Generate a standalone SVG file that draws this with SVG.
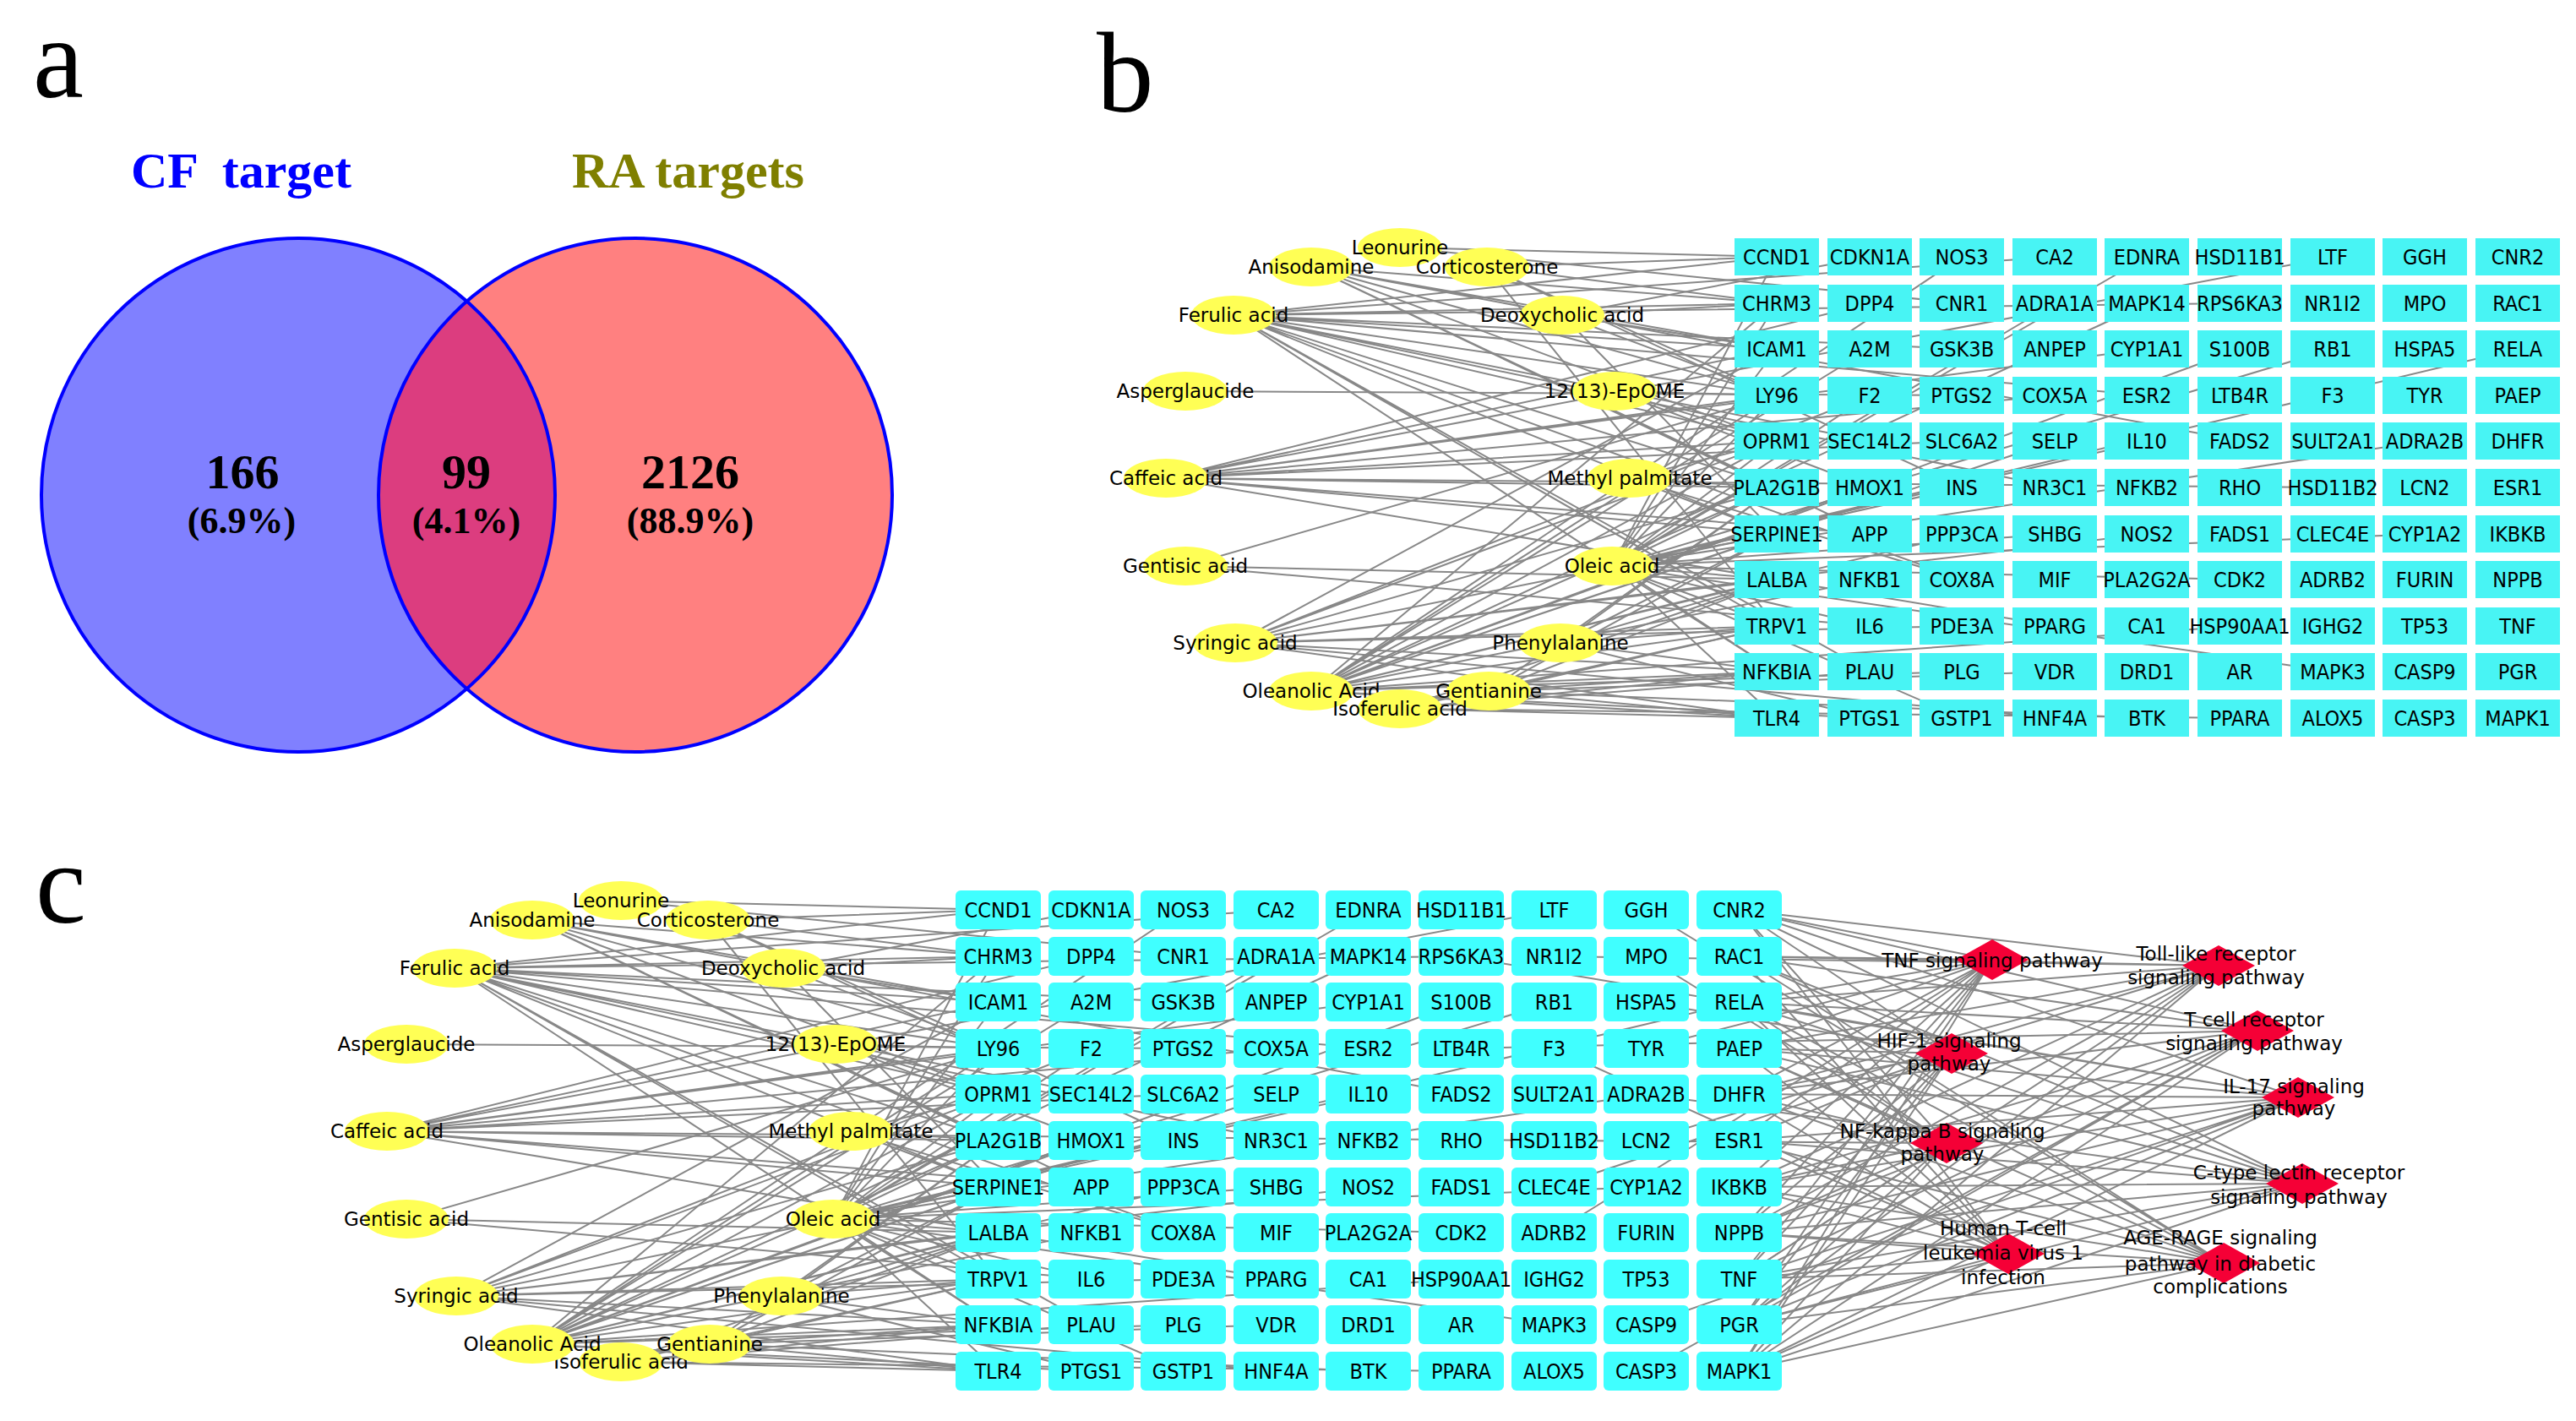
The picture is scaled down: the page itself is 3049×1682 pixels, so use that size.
<svg xmlns="http://www.w3.org/2000/svg" width="3049" height="1682" viewBox="0 0 3049 1682">
<style>
.panel{font-family:"Liberation Serif",serif;font-size:135px;fill:#000}
.venn{font-family:"Liberation Serif",serif;font-weight:bold;text-anchor:middle;fill:#000}
.lbl{font-family:"DejaVu Sans","Liberation Sans",sans-serif;font-size:23px;fill:#000;text-anchor:middle}
.cmp ellipse{fill:#ffff55}
.gene text{font-family:"DejaVu Sans Condensed","DejaVu Sans","Liberation Sans",sans-serif;font-stretch:condensed;font-size:25px;fill:#000;text-anchor:middle}
.gb rect{fill:#48f4f4}
.gc rect{fill:#40ffff}
.pw polygon{fill:#f50036}
.edges path{fill:none;stroke:#888;stroke-width:2;stroke-linejoin:round}
</style>
<defs>
<clipPath id="clipLeft"><circle cx="353" cy="586" r="304"/></clipPath>
</defs>
<rect width="3049" height="1682" fill="#fff"/>

<!-- Panel labels -->
<text class="panel" x="39" y="115">a</text>
<text class="panel" x="1298" y="132">b</text>
<text class="panel" x="42" y="1092">c</text>

<!-- Panel a: Venn -->
<g id="venn">
<g id="set-CF"><circle cx="353" cy="586" r="304" fill="#8080ff"/></g>
<g id="set-RA"><circle cx="752" cy="586" r="304" fill="#ff8080"/></g>
<g id="overlap"><circle cx="752" cy="586" r="304" fill="#dc3d7f" clip-path="url(#clipLeft)"/></g>
<circle cx="353" cy="586" r="304" fill="none" stroke="#0000ff" stroke-width="4"/>
<circle cx="752" cy="586" r="304" fill="none" stroke="#0000ff" stroke-width="4"/>
<text xml:space="preserve" x="155" y="222" font-family="Liberation Serif, serif" font-weight="bold" font-size="60" fill="#0000ff">CF  target</text>
<text x="677" y="222" font-family="Liberation Serif, serif" font-weight="bold" font-size="60" fill="#7f7f00">RA targets</text>
<text class="venn" x="287" y="578" font-size="58">166</text>
<text class="venn" x="286" y="631" font-size="44">(6.9%)</text>
<text class="venn" x="552" y="578" font-size="58">99</text>
<text class="venn" x="552" y="631" font-size="44">(4.1%)</text>
<text class="venn" x="817" y="578" font-size="58">2126</text>
<text class="venn" x="817" y="631" font-size="44">(88.9%)</text>
</g>

<!-- Panel b connectors -->
<g id="connectors-b" class="edges">
<path d="M1460 373 2103 304 1460 373 2432 304 1460 373 2103 359 1460 373 2651 359 1460 373 2103 413 1460 373 2322 413 1460 373 2103 468 1460 373 2541 468 1460 373 2103 522 1460 373 2213 522 1460 373 2103 577 1460 373 2432 577 1460 373 2103 632 1460 373 2322 686 1460 373 2103 741 1460 373 2213 795 1460 373 2103 795"/>
<path d="M1380 566 2213 359 1380 566 2103 413 1380 566 2432 468 1380 566 2103 522 1380 566 2322 522 1380 566 2103 577 1380 566 2761 577 1380 566 2103 632 1380 566 2213 632 1380 566 2103 686 1380 566 2432 741 1380 566 2541 413 1380 566 2103 468 1380 566 2761 304"/>
<path d="M1403 670 2103 468 1403 670 2103 686 1403 670 2213 741"/>
<path d="M1403 463 2322 468"/>
<path d="M1462 761 2103 413 1462 761 2213 468 1462 761 2103 522 1462 761 2103 577 1462 761 2103 632 1462 761 2541 632 1462 761 2103 686 1462 761 2103 741 1462 761 2322 741 1462 761 2103 795 1462 761 2103 850 1462 761 2432 850"/>
<path d="M1552 818 2322 304 1552 818 2103 359 1552 818 2213 413 1552 818 2103 468 1552 818 2432 522 1552 818 2103 577 1552 818 2213 577 1552 818 2103 632 1552 818 2322 632 1552 818 2103 686 1552 818 2213 686 1552 818 2103 741 1552 818 2103 795 1552 818 2322 795 1552 818 2103 850 1552 818 2213 850 1552 818 2103 522 1552 818 2651 413 1552 818 2651 741 1552 818 2541 359"/>
<path d="M1552 316 2103 359 1552 316 2103 413 1552 316 2103 468 1552 316 2103 522 1552 316 2103 577 1552 316 2213 632 1552 316 2651 522"/>
<path d="M1657 293 2103 304 1657 293 2322 359"/>
<path d="M1760 316 2103 304 1760 316 2103 359 1760 316 2103 468 1760 316 2322 577 1760 316 2103 741"/>
<path d="M1849 373 2213 304 1849 373 2103 359 1849 373 2103 413 1849 373 2103 468 1849 373 2103 632"/>
<path d="M1911 463 2103 468 1911 463 2103 522 1911 463 2213 577"/>
<path d="M1929 566 2103 522 1929 566 2103 577 1929 566 2103 632 1929 566 2322 686"/>
<path d="M1908 670 2103 304 1908 670 2103 359 1908 670 2432 359 1908 670 2103 413 1908 670 2761 413 1908 670 2103 468 1908 670 2213 468 1908 670 2103 522 1908 670 2541 522 1908 670 2103 577 1908 670 2322 577 1908 670 2103 632 1908 670 2432 632 1908 670 2870 632 1908 670 2103 686 1908 670 2651 686 1908 670 2103 741 1908 670 2213 741 1908 670 2103 795 1908 670 2761 795 1908 670 2103 850 1908 670 2322 850 1908 670 2541 304 1908 670 2980 413 1908 670 2870 522"/>
<path d="M1847 761 2103 577 1847 761 2103 632 1847 761 2103 686 1847 761 2103 741 1847 761 2103 795 1847 761 2213 850"/>
<path d="M1762 818 2103 632 1762 818 2103 686 1762 818 2103 741 1762 818 2103 795 1762 818 2432 795 1762 818 2103 850 1762 818 2541 850 1762 818 2103 577"/>
<path d="M1657 839 2103 686 1657 839 2103 741 1657 839 2103 795 1657 839 2103 850 1657 839 2651 850 1657 839 2213 795"/>
</g>

<!-- Panel b compound nodes -->
<g id="b-leonurine" class="cmp"><ellipse cx="1657" cy="293" rx="50" ry="23"/><text class="lbl" x="1657" y="301">Leonurine</text></g>
<g id="b-anisodamine" class="cmp"><ellipse cx="1552" cy="316" rx="50" ry="23"/><text class="lbl" x="1552" y="324">Anisodamine</text></g>
<g id="b-corticosterone" class="cmp"><ellipse cx="1760" cy="316" rx="50" ry="23"/><text class="lbl" x="1760" y="324">Corticosterone</text></g>
<g id="b-ferulic" class="cmp"><ellipse cx="1460" cy="373" rx="50" ry="23"/><text class="lbl" x="1460" y="381">Ferulic acid</text></g>
<g id="b-deoxycholic" class="cmp"><ellipse cx="1849" cy="373" rx="50" ry="23"/><text class="lbl" x="1849" y="381">Deoxycholic acid</text></g>
<g id="b-asperglaucide" class="cmp"><ellipse cx="1403" cy="463" rx="50" ry="23"/><text class="lbl" x="1403" y="471">Asperglaucide</text></g>
<g id="b-epome" class="cmp"><ellipse cx="1911" cy="463" rx="50" ry="23"/><text class="lbl" x="1911" y="471">12(13)-EpOME</text></g>
<g id="b-caffeic" class="cmp"><ellipse cx="1380" cy="566" rx="50" ry="23"/><text class="lbl" x="1380" y="574">Caffeic acid</text></g>
<g id="b-methylpalmitate" class="cmp"><ellipse cx="1929" cy="566" rx="50" ry="23"/><text class="lbl" x="1929" y="574">Methyl palmitate</text></g>
<g id="b-gentisic" class="cmp"><ellipse cx="1403" cy="670" rx="50" ry="23"/><text class="lbl" x="1403" y="678">Gentisic acid</text></g>
<g id="b-oleic" class="cmp"><ellipse cx="1908" cy="670" rx="50" ry="23"/><text class="lbl" x="1908" y="678">Oleic acid</text></g>
<g id="b-syringic" class="cmp"><ellipse cx="1462" cy="761" rx="50" ry="23"/><text class="lbl" x="1462" y="769">Syringic acid</text></g>
<g id="b-phenylalanine" class="cmp"><ellipse cx="1847" cy="761" rx="50" ry="23"/><text class="lbl" x="1847" y="769">Phenylalanine</text></g>
<g id="b-oleanolic" class="cmp"><ellipse cx="1552" cy="818" rx="50" ry="23"/><text class="lbl" x="1552" y="826">Oleanolic Acid</text></g>
<g id="b-gentianine" class="cmp"><ellipse cx="1762" cy="818" rx="50" ry="23"/><text class="lbl" x="1762" y="826">Gentianine</text></g>
<g id="b-isoferulic" class="cmp"><ellipse cx="1657" cy="839" rx="50" ry="23"/><text class="lbl" x="1657" y="847">Isoferulic acid</text></g>

<!-- Panel b gene nodes -->
<g id="b-CCND1" class="gene gb"><rect x="2053" y="282" width="100" height="44"/><text x="2103" y="313">CCND1</text></g>
<g id="b-CDKN1A" class="gene gb"><rect x="2163" y="282" width="100" height="44"/><text x="2213" y="313">CDKN1A</text></g>
<g id="b-NOS3" class="gene gb"><rect x="2272" y="282" width="100" height="44"/><text x="2322" y="313">NOS3</text></g>
<g id="b-CA2" class="gene gb"><rect x="2382" y="282" width="100" height="44"/><text x="2432" y="313">CA2</text></g>
<g id="b-EDNRA" class="gene gb"><rect x="2491" y="282" width="100" height="44"/><text x="2541" y="313">EDNRA</text></g>
<g id="b-HSD11B1" class="gene gb"><rect x="2601" y="282" width="100" height="44"/><text x="2651" y="313">HSD11B1</text></g>
<g id="b-LTF" class="gene gb"><rect x="2711" y="282" width="100" height="44"/><text x="2761" y="313">LTF</text></g>
<g id="b-GGH" class="gene gb"><rect x="2820" y="282" width="100" height="44"/><text x="2870" y="313">GGH</text></g>
<g id="b-CNR2" class="gene gb"><rect x="2930" y="282" width="100" height="44"/><text x="2980" y="313">CNR2</text></g>
<g id="b-CHRM3" class="gene gb"><rect x="2053" y="337" width="100" height="44"/><text x="2103" y="368">CHRM3</text></g>
<g id="b-DPP4" class="gene gb"><rect x="2163" y="337" width="100" height="44"/><text x="2213" y="368">DPP4</text></g>
<g id="b-CNR1" class="gene gb"><rect x="2272" y="337" width="100" height="44"/><text x="2322" y="368">CNR1</text></g>
<g id="b-ADRA1A" class="gene gb"><rect x="2382" y="337" width="100" height="44"/><text x="2432" y="368">ADRA1A</text></g>
<g id="b-MAPK14" class="gene gb"><rect x="2491" y="337" width="100" height="44"/><text x="2541" y="368">MAPK14</text></g>
<g id="b-RPS6KA3" class="gene gb"><rect x="2601" y="337" width="100" height="44"/><text x="2651" y="368">RPS6KA3</text></g>
<g id="b-NR1I2" class="gene gb"><rect x="2711" y="337" width="100" height="44"/><text x="2761" y="368">NR1I2</text></g>
<g id="b-MPO" class="gene gb"><rect x="2820" y="337" width="100" height="44"/><text x="2870" y="368">MPO</text></g>
<g id="b-RAC1" class="gene gb"><rect x="2930" y="337" width="100" height="44"/><text x="2980" y="368">RAC1</text></g>
<g id="b-ICAM1" class="gene gb"><rect x="2053" y="391" width="100" height="44"/><text x="2103" y="422">ICAM1</text></g>
<g id="b-A2M" class="gene gb"><rect x="2163" y="391" width="100" height="44"/><text x="2213" y="422">A2M</text></g>
<g id="b-GSK3B" class="gene gb"><rect x="2272" y="391" width="100" height="44"/><text x="2322" y="422">GSK3B</text></g>
<g id="b-ANPEP" class="gene gb"><rect x="2382" y="391" width="100" height="44"/><text x="2432" y="422">ANPEP</text></g>
<g id="b-CYP1A1" class="gene gb"><rect x="2491" y="391" width="100" height="44"/><text x="2541" y="422">CYP1A1</text></g>
<g id="b-S100B" class="gene gb"><rect x="2601" y="391" width="100" height="44"/><text x="2651" y="422">S100B</text></g>
<g id="b-RB1" class="gene gb"><rect x="2711" y="391" width="100" height="44"/><text x="2761" y="422">RB1</text></g>
<g id="b-HSPA5" class="gene gb"><rect x="2820" y="391" width="100" height="44"/><text x="2870" y="422">HSPA5</text></g>
<g id="b-RELA" class="gene gb"><rect x="2930" y="391" width="100" height="44"/><text x="2980" y="422">RELA</text></g>
<g id="b-LY96" class="gene gb"><rect x="2053" y="446" width="100" height="44"/><text x="2103" y="477">LY96</text></g>
<g id="b-F2" class="gene gb"><rect x="2163" y="446" width="100" height="44"/><text x="2213" y="477">F2</text></g>
<g id="b-PTGS2" class="gene gb"><rect x="2272" y="446" width="100" height="44"/><text x="2322" y="477">PTGS2</text></g>
<g id="b-COX5A" class="gene gb"><rect x="2382" y="446" width="100" height="44"/><text x="2432" y="477">COX5A</text></g>
<g id="b-ESR2" class="gene gb"><rect x="2491" y="446" width="100" height="44"/><text x="2541" y="477">ESR2</text></g>
<g id="b-LTB4R" class="gene gb"><rect x="2601" y="446" width="100" height="44"/><text x="2651" y="477">LTB4R</text></g>
<g id="b-F3" class="gene gb"><rect x="2711" y="446" width="100" height="44"/><text x="2761" y="477">F3</text></g>
<g id="b-TYR" class="gene gb"><rect x="2820" y="446" width="100" height="44"/><text x="2870" y="477">TYR</text></g>
<g id="b-PAEP" class="gene gb"><rect x="2930" y="446" width="100" height="44"/><text x="2980" y="477">PAEP</text></g>
<g id="b-OPRM1" class="gene gb"><rect x="2053" y="500" width="100" height="44"/><text x="2103" y="531">OPRM1</text></g>
<g id="b-SEC14L2" class="gene gb"><rect x="2163" y="500" width="100" height="44"/><text x="2213" y="531">SEC14L2</text></g>
<g id="b-SLC6A2" class="gene gb"><rect x="2272" y="500" width="100" height="44"/><text x="2322" y="531">SLC6A2</text></g>
<g id="b-SELP" class="gene gb"><rect x="2382" y="500" width="100" height="44"/><text x="2432" y="531">SELP</text></g>
<g id="b-IL10" class="gene gb"><rect x="2491" y="500" width="100" height="44"/><text x="2541" y="531">IL10</text></g>
<g id="b-FADS2" class="gene gb"><rect x="2601" y="500" width="100" height="44"/><text x="2651" y="531">FADS2</text></g>
<g id="b-SULT2A1" class="gene gb"><rect x="2711" y="500" width="100" height="44"/><text x="2761" y="531">SULT2A1</text></g>
<g id="b-ADRA2B" class="gene gb"><rect x="2820" y="500" width="100" height="44"/><text x="2870" y="531">ADRA2B</text></g>
<g id="b-DHFR" class="gene gb"><rect x="2930" y="500" width="100" height="44"/><text x="2980" y="531">DHFR</text></g>
<g id="b-PLA2G1B" class="gene gb"><rect x="2053" y="555" width="100" height="44"/><text x="2103" y="586">PLA2G1B</text></g>
<g id="b-HMOX1" class="gene gb"><rect x="2163" y="555" width="100" height="44"/><text x="2213" y="586">HMOX1</text></g>
<g id="b-INS" class="gene gb"><rect x="2272" y="555" width="100" height="44"/><text x="2322" y="586">INS</text></g>
<g id="b-NR3C1" class="gene gb"><rect x="2382" y="555" width="100" height="44"/><text x="2432" y="586">NR3C1</text></g>
<g id="b-NFKB2" class="gene gb"><rect x="2491" y="555" width="100" height="44"/><text x="2541" y="586">NFKB2</text></g>
<g id="b-RHO" class="gene gb"><rect x="2601" y="555" width="100" height="44"/><text x="2651" y="586">RHO</text></g>
<g id="b-HSD11B2" class="gene gb"><rect x="2711" y="555" width="100" height="44"/><text x="2761" y="586">HSD11B2</text></g>
<g id="b-LCN2" class="gene gb"><rect x="2820" y="555" width="100" height="44"/><text x="2870" y="586">LCN2</text></g>
<g id="b-ESR1" class="gene gb"><rect x="2930" y="555" width="100" height="44"/><text x="2980" y="586">ESR1</text></g>
<g id="b-SERPINE1" class="gene gb"><rect x="2053" y="610" width="100" height="44"/><text x="2103" y="641">SERPINE1</text></g>
<g id="b-APP" class="gene gb"><rect x="2163" y="610" width="100" height="44"/><text x="2213" y="641">APP</text></g>
<g id="b-PPP3CA" class="gene gb"><rect x="2272" y="610" width="100" height="44"/><text x="2322" y="641">PPP3CA</text></g>
<g id="b-SHBG" class="gene gb"><rect x="2382" y="610" width="100" height="44"/><text x="2432" y="641">SHBG</text></g>
<g id="b-NOS2" class="gene gb"><rect x="2491" y="610" width="100" height="44"/><text x="2541" y="641">NOS2</text></g>
<g id="b-FADS1" class="gene gb"><rect x="2601" y="610" width="100" height="44"/><text x="2651" y="641">FADS1</text></g>
<g id="b-CLEC4E" class="gene gb"><rect x="2711" y="610" width="100" height="44"/><text x="2761" y="641">CLEC4E</text></g>
<g id="b-CYP1A2" class="gene gb"><rect x="2820" y="610" width="100" height="44"/><text x="2870" y="641">CYP1A2</text></g>
<g id="b-IKBKB" class="gene gb"><rect x="2930" y="610" width="100" height="44"/><text x="2980" y="641">IKBKB</text></g>
<g id="b-LALBA" class="gene gb"><rect x="2053" y="664" width="100" height="44"/><text x="2103" y="695">LALBA</text></g>
<g id="b-NFKB1" class="gene gb"><rect x="2163" y="664" width="100" height="44"/><text x="2213" y="695">NFKB1</text></g>
<g id="b-COX8A" class="gene gb"><rect x="2272" y="664" width="100" height="44"/><text x="2322" y="695">COX8A</text></g>
<g id="b-MIF" class="gene gb"><rect x="2382" y="664" width="100" height="44"/><text x="2432" y="695">MIF</text></g>
<g id="b-PLA2G2A" class="gene gb"><rect x="2491" y="664" width="100" height="44"/><text x="2541" y="695">PLA2G2A</text></g>
<g id="b-CDK2" class="gene gb"><rect x="2601" y="664" width="100" height="44"/><text x="2651" y="695">CDK2</text></g>
<g id="b-ADRB2" class="gene gb"><rect x="2711" y="664" width="100" height="44"/><text x="2761" y="695">ADRB2</text></g>
<g id="b-FURIN" class="gene gb"><rect x="2820" y="664" width="100" height="44"/><text x="2870" y="695">FURIN</text></g>
<g id="b-NPPB" class="gene gb"><rect x="2930" y="664" width="100" height="44"/><text x="2980" y="695">NPPB</text></g>
<g id="b-TRPV1" class="gene gb"><rect x="2053" y="719" width="100" height="44"/><text x="2103" y="750">TRPV1</text></g>
<g id="b-IL6" class="gene gb"><rect x="2163" y="719" width="100" height="44"/><text x="2213" y="750">IL6</text></g>
<g id="b-PDE3A" class="gene gb"><rect x="2272" y="719" width="100" height="44"/><text x="2322" y="750">PDE3A</text></g>
<g id="b-PPARG" class="gene gb"><rect x="2382" y="719" width="100" height="44"/><text x="2432" y="750">PPARG</text></g>
<g id="b-CA1" class="gene gb"><rect x="2491" y="719" width="100" height="44"/><text x="2541" y="750">CA1</text></g>
<g id="b-HSP90AA1" class="gene gb"><rect x="2601" y="719" width="100" height="44"/><text x="2651" y="750">HSP90AA1</text></g>
<g id="b-IGHG2" class="gene gb"><rect x="2711" y="719" width="100" height="44"/><text x="2761" y="750">IGHG2</text></g>
<g id="b-TP53" class="gene gb"><rect x="2820" y="719" width="100" height="44"/><text x="2870" y="750">TP53</text></g>
<g id="b-TNF" class="gene gb"><rect x="2930" y="719" width="100" height="44"/><text x="2980" y="750">TNF</text></g>
<g id="b-NFKBIA" class="gene gb"><rect x="2053" y="773" width="100" height="44"/><text x="2103" y="804">NFKBIA</text></g>
<g id="b-PLAU" class="gene gb"><rect x="2163" y="773" width="100" height="44"/><text x="2213" y="804">PLAU</text></g>
<g id="b-PLG" class="gene gb"><rect x="2272" y="773" width="100" height="44"/><text x="2322" y="804">PLG</text></g>
<g id="b-VDR" class="gene gb"><rect x="2382" y="773" width="100" height="44"/><text x="2432" y="804">VDR</text></g>
<g id="b-DRD1" class="gene gb"><rect x="2491" y="773" width="100" height="44"/><text x="2541" y="804">DRD1</text></g>
<g id="b-AR" class="gene gb"><rect x="2601" y="773" width="100" height="44"/><text x="2651" y="804">AR</text></g>
<g id="b-MAPK3" class="gene gb"><rect x="2711" y="773" width="100" height="44"/><text x="2761" y="804">MAPK3</text></g>
<g id="b-CASP9" class="gene gb"><rect x="2820" y="773" width="100" height="44"/><text x="2870" y="804">CASP9</text></g>
<g id="b-PGR" class="gene gb"><rect x="2930" y="773" width="100" height="44"/><text x="2980" y="804">PGR</text></g>
<g id="b-TLR4" class="gene gb"><rect x="2053" y="828" width="100" height="44"/><text x="2103" y="859">TLR4</text></g>
<g id="b-PTGS1" class="gene gb"><rect x="2163" y="828" width="100" height="44"/><text x="2213" y="859">PTGS1</text></g>
<g id="b-GSTP1" class="gene gb"><rect x="2272" y="828" width="100" height="44"/><text x="2322" y="859">GSTP1</text></g>
<g id="b-HNF4A" class="gene gb"><rect x="2382" y="828" width="100" height="44"/><text x="2432" y="859">HNF4A</text></g>
<g id="b-BTK" class="gene gb"><rect x="2491" y="828" width="100" height="44"/><text x="2541" y="859">BTK</text></g>
<g id="b-PPARA" class="gene gb"><rect x="2601" y="828" width="100" height="44"/><text x="2651" y="859">PPARA</text></g>
<g id="b-ALOX5" class="gene gb"><rect x="2711" y="828" width="100" height="44"/><text x="2761" y="859">ALOX5</text></g>
<g id="b-CASP3" class="gene gb"><rect x="2820" y="828" width="100" height="44"/><text x="2870" y="859">CASP3</text></g>
<g id="b-MAPK1" class="gene gb"><rect x="2930" y="828" width="100" height="44"/><text x="2980" y="859">MAPK1</text></g>

<!-- Panel c connectors -->
<g id="connectors-c" class="edges">
<g transform="translate(-922 773)">
<path d="M1460 373 2103 304 1460 373 2432 304 1460 373 2103 359 1460 373 2651 359 1460 373 2103 413 1460 373 2322 413 1460 373 2103 468 1460 373 2541 468 1460 373 2103 522 1460 373 2213 522 1460 373 2103 577 1460 373 2432 577 1460 373 2103 632 1460 373 2322 686 1460 373 2103 741 1460 373 2213 795 1460 373 2103 795"/>
<path d="M1380 566 2213 359 1380 566 2103 413 1380 566 2432 468 1380 566 2103 522 1380 566 2322 522 1380 566 2103 577 1380 566 2761 577 1380 566 2103 632 1380 566 2213 632 1380 566 2103 686 1380 566 2432 741 1380 566 2541 413 1380 566 2103 468 1380 566 2761 304"/>
<path d="M1403 670 2103 468 1403 670 2103 686 1403 670 2213 741"/>
<path d="M1403 463 2322 468"/>
<path d="M1462 761 2103 413 1462 761 2213 468 1462 761 2103 522 1462 761 2103 577 1462 761 2103 632 1462 761 2541 632 1462 761 2103 686 1462 761 2103 741 1462 761 2322 741 1462 761 2103 795 1462 761 2103 850 1462 761 2432 850"/>
<path d="M1552 818 2322 304 1552 818 2103 359 1552 818 2213 413 1552 818 2103 468 1552 818 2432 522 1552 818 2103 577 1552 818 2213 577 1552 818 2103 632 1552 818 2322 632 1552 818 2103 686 1552 818 2213 686 1552 818 2103 741 1552 818 2103 795 1552 818 2322 795 1552 818 2103 850 1552 818 2213 850 1552 818 2103 522 1552 818 2651 413 1552 818 2651 741 1552 818 2541 359"/>
<path d="M1552 316 2103 359 1552 316 2103 413 1552 316 2103 468 1552 316 2103 522 1552 316 2103 577 1552 316 2213 632 1552 316 2651 522"/>
<path d="M1657 293 2103 304 1657 293 2322 359"/>
<path d="M1760 316 2103 304 1760 316 2103 359 1760 316 2103 468 1760 316 2322 577 1760 316 2103 741"/>
<path d="M1849 373 2213 304 1849 373 2103 359 1849 373 2103 413 1849 373 2103 468 1849 373 2103 632"/>
<path d="M1911 463 2103 468 1911 463 2103 522 1911 463 2213 577"/>
<path d="M1929 566 2103 522 1929 566 2103 577 1929 566 2103 632 1929 566 2322 686"/>
<path d="M1908 670 2103 304 1908 670 2103 359 1908 670 2432 359 1908 670 2103 413 1908 670 2761 413 1908 670 2103 468 1908 670 2213 468 1908 670 2103 522 1908 670 2541 522 1908 670 2103 577 1908 670 2322 577 1908 670 2103 632 1908 670 2432 632 1908 670 2870 632 1908 670 2103 686 1908 670 2651 686 1908 670 2103 741 1908 670 2213 741 1908 670 2103 795 1908 670 2761 795 1908 670 2103 850 1908 670 2322 850 1908 670 2541 304 1908 670 2980 413 1908 670 2870 522"/>
<path d="M1847 761 2103 577 1847 761 2103 632 1847 761 2103 686 1847 761 2103 741 1847 761 2103 795 1847 761 2213 850"/>
<path d="M1762 818 2103 632 1762 818 2103 686 1762 818 2103 741 1762 818 2103 795 1762 818 2432 795 1762 818 2103 850 1762 818 2541 850 1762 818 2103 577"/>
<path d="M1657 839 2103 686 1657 839 2103 741 1657 839 2103 795 1657 839 2103 850 1657 839 2651 850 1657 839 2213 795"/>
</g>
<path d="M2358 1136 2058 1077 2358 1136 2058 1132 2358 1136 2058 1186 2358 1136 2058 1295 2358 1136 2058 1350 2358 1136 2058 1405 2358 1136 2058 1514 2358 1136 2058 1623 2358 1136 1948 1241 2358 1136 1839 1459 2358 1136 2058 1568 2358 1136 2058 1241 2358 1136 2058 1459"/>
<path d="M2626 1143 2058 1077 2626 1143 2058 1186 2626 1143 2058 1241 2626 1143 2058 1405 2626 1143 2058 1459 2626 1143 2058 1568 2626 1143 2058 1623 2626 1143 1948 1350 2626 1143 1839 1132 2626 1143 2058 1295 2626 1143 2058 1514 2626 1143 2058 1132"/>
<path d="M2672 1220 2058 1132 2672 1220 2058 1186 2672 1220 2058 1295 2672 1220 2058 1405 2672 1220 2058 1514 2672 1220 2058 1568 2672 1220 1729 1241 2672 1220 1948 1623 2672 1220 2058 1077 2672 1220 2058 1459 2672 1220 2058 1623"/>
<path d="M2310 1247 2058 1077 2310 1247 2058 1132 2310 1247 2058 1241 2310 1247 2058 1295 2310 1247 2058 1350 2310 1247 2058 1459 2310 1247 2058 1514 2310 1247 2058 1568 2310 1247 2058 1623 2310 1247 1948 1186 2310 1247 1839 1405"/>
<path d="M2720 1299 2058 1077 2720 1299 2058 1186 2720 1299 2058 1295 2720 1299 2058 1350 2720 1299 2058 1459 2720 1299 2058 1514 2720 1299 2058 1623 2720 1299 1948 1568 2720 1299 1729 1132 2720 1299 2058 1241 2720 1299 2058 1405 2720 1299 2058 1568"/>
<path d="M2304 1353 2058 1077 2304 1353 2058 1186 2304 1353 2058 1241 2304 1353 2058 1295 2304 1353 2058 1405 2304 1353 2058 1459 2304 1353 2058 1514 2304 1353 2058 1568 2304 1353 2058 1623 2304 1353 1948 1132 2304 1353 1839 1350"/>
<path d="M2725 1401 2058 1132 2725 1401 2058 1241 2725 1401 2058 1350 2725 1401 2058 1405 2725 1401 2058 1514 2725 1401 2058 1568 2725 1401 2058 1623 2725 1401 1948 1295 2725 1401 2058 1077 2725 1401 2058 1186 2725 1401 2058 1459"/>
<path d="M2377 1484 2058 1077 2377 1484 2058 1132 2377 1484 2058 1186 2377 1484 2058 1295 2377 1484 2058 1350 2377 1484 2058 1405 2377 1484 2058 1459 2377 1484 2058 1514 2377 1484 2058 1568 2377 1484 2058 1623 2377 1484 1839 1241 2377 1484 2058 1241"/>
<path d="M2632 1495 2058 1132 2632 1495 2058 1186 2632 1495 2058 1241 2632 1495 2058 1350 2632 1495 2058 1405 2632 1495 2058 1459 2632 1495 2058 1514 2632 1495 2058 1568 2632 1495 2058 1623 2632 1495 1948 1077 2632 1495 2058 1295"/>
</g>

<!-- Panel c compound nodes -->
<g id="c-leonurine" class="cmp"><ellipse cx="735" cy="1066" rx="50" ry="23"/><text class="lbl" x="735" y="1074">Leonurine</text></g>
<g id="c-anisodamine" class="cmp"><ellipse cx="630" cy="1089" rx="50" ry="23"/><text class="lbl" x="630" y="1097">Anisodamine</text></g>
<g id="c-corticosterone" class="cmp"><ellipse cx="838" cy="1089" rx="50" ry="23"/><text class="lbl" x="838" y="1097">Corticosterone</text></g>
<g id="c-ferulic" class="cmp"><ellipse cx="538" cy="1146" rx="50" ry="23"/><text class="lbl" x="538" y="1154">Ferulic acid</text></g>
<g id="c-deoxycholic" class="cmp"><ellipse cx="927" cy="1146" rx="50" ry="23"/><text class="lbl" x="927" y="1154">Deoxycholic acid</text></g>
<g id="c-asperglaucide" class="cmp"><ellipse cx="481" cy="1236" rx="50" ry="23"/><text class="lbl" x="481" y="1244">Asperglaucide</text></g>
<g id="c-epome" class="cmp"><ellipse cx="989" cy="1236" rx="50" ry="23"/><text class="lbl" x="989" y="1244">12(13)-EpOME</text></g>
<g id="c-caffeic" class="cmp"><ellipse cx="458" cy="1339" rx="50" ry="23"/><text class="lbl" x="458" y="1347">Caffeic acid</text></g>
<g id="c-methylpalmitate" class="cmp"><ellipse cx="1007" cy="1339" rx="50" ry="23"/><text class="lbl" x="1007" y="1347">Methyl palmitate</text></g>
<g id="c-gentisic" class="cmp"><ellipse cx="481" cy="1443" rx="50" ry="23"/><text class="lbl" x="481" y="1451">Gentisic acid</text></g>
<g id="c-oleic" class="cmp"><ellipse cx="986" cy="1443" rx="50" ry="23"/><text class="lbl" x="986" y="1451">Oleic acid</text></g>
<g id="c-syringic" class="cmp"><ellipse cx="540" cy="1534" rx="50" ry="23"/><text class="lbl" x="540" y="1542">Syringic acid</text></g>
<g id="c-phenylalanine" class="cmp"><ellipse cx="925" cy="1534" rx="50" ry="23"/><text class="lbl" x="925" y="1542">Phenylalanine</text></g>
<g id="c-isoferulic" class="cmp"><ellipse cx="735" cy="1612" rx="50" ry="23"/><text class="lbl" x="735" y="1620">Isoferulic acid</text></g>
<g id="c-oleanolic" class="cmp"><ellipse cx="630" cy="1591" rx="50" ry="23"/><text class="lbl" x="630" y="1599">Oleanolic Acid</text></g>
<g id="c-gentianine" class="cmp"><ellipse cx="840" cy="1591" rx="50" ry="23"/><text class="lbl" x="840" y="1599">Gentianine</text></g>

<!-- Panel c gene nodes -->
<g id="c-CCND1" class="gene gc"><rect x="1131" y="1054" width="101" height="46" rx="6"/><text x="1181.5" y="1086">CCND1</text></g>
<g id="c-CDKN1A" class="gene gc"><rect x="1241" y="1054" width="101" height="46" rx="6"/><text x="1291.5" y="1086">CDKN1A</text></g>
<g id="c-NOS3" class="gene gc"><rect x="1350" y="1054" width="101" height="46" rx="6"/><text x="1400.5" y="1086">NOS3</text></g>
<g id="c-CA2" class="gene gc"><rect x="1460" y="1054" width="101" height="46" rx="6"/><text x="1510.5" y="1086">CA2</text></g>
<g id="c-EDNRA" class="gene gc"><rect x="1569" y="1054" width="101" height="46" rx="6"/><text x="1619.5" y="1086">EDNRA</text></g>
<g id="c-HSD11B1" class="gene gc"><rect x="1679" y="1054" width="101" height="46" rx="6"/><text x="1729.5" y="1086">HSD11B1</text></g>
<g id="c-LTF" class="gene gc"><rect x="1789" y="1054" width="101" height="46" rx="6"/><text x="1839.5" y="1086">LTF</text></g>
<g id="c-GGH" class="gene gc"><rect x="1898" y="1054" width="101" height="46" rx="6"/><text x="1948.5" y="1086">GGH</text></g>
<g id="c-CNR2" class="gene gc"><rect x="2008" y="1054" width="101" height="46" rx="6"/><text x="2058.5" y="1086">CNR2</text></g>
<g id="c-CHRM3" class="gene gc"><rect x="1131" y="1109" width="101" height="46" rx="6"/><text x="1181.5" y="1141">CHRM3</text></g>
<g id="c-DPP4" class="gene gc"><rect x="1241" y="1109" width="101" height="46" rx="6"/><text x="1291.5" y="1141">DPP4</text></g>
<g id="c-CNR1" class="gene gc"><rect x="1350" y="1109" width="101" height="46" rx="6"/><text x="1400.5" y="1141">CNR1</text></g>
<g id="c-ADRA1A" class="gene gc"><rect x="1460" y="1109" width="101" height="46" rx="6"/><text x="1510.5" y="1141">ADRA1A</text></g>
<g id="c-MAPK14" class="gene gc"><rect x="1569" y="1109" width="101" height="46" rx="6"/><text x="1619.5" y="1141">MAPK14</text></g>
<g id="c-RPS6KA3" class="gene gc"><rect x="1679" y="1109" width="101" height="46" rx="6"/><text x="1729.5" y="1141">RPS6KA3</text></g>
<g id="c-NR1I2" class="gene gc"><rect x="1789" y="1109" width="101" height="46" rx="6"/><text x="1839.5" y="1141">NR1I2</text></g>
<g id="c-MPO" class="gene gc"><rect x="1898" y="1109" width="101" height="46" rx="6"/><text x="1948.5" y="1141">MPO</text></g>
<g id="c-RAC1" class="gene gc"><rect x="2008" y="1109" width="101" height="46" rx="6"/><text x="2058.5" y="1141">RAC1</text></g>
<g id="c-ICAM1" class="gene gc"><rect x="1131" y="1163" width="101" height="46" rx="6"/><text x="1181.5" y="1195">ICAM1</text></g>
<g id="c-A2M" class="gene gc"><rect x="1241" y="1163" width="101" height="46" rx="6"/><text x="1291.5" y="1195">A2M</text></g>
<g id="c-GSK3B" class="gene gc"><rect x="1350" y="1163" width="101" height="46" rx="6"/><text x="1400.5" y="1195">GSK3B</text></g>
<g id="c-ANPEP" class="gene gc"><rect x="1460" y="1163" width="101" height="46" rx="6"/><text x="1510.5" y="1195">ANPEP</text></g>
<g id="c-CYP1A1" class="gene gc"><rect x="1569" y="1163" width="101" height="46" rx="6"/><text x="1619.5" y="1195">CYP1A1</text></g>
<g id="c-S100B" class="gene gc"><rect x="1679" y="1163" width="101" height="46" rx="6"/><text x="1729.5" y="1195">S100B</text></g>
<g id="c-RB1" class="gene gc"><rect x="1789" y="1163" width="101" height="46" rx="6"/><text x="1839.5" y="1195">RB1</text></g>
<g id="c-HSPA5" class="gene gc"><rect x="1898" y="1163" width="101" height="46" rx="6"/><text x="1948.5" y="1195">HSPA5</text></g>
<g id="c-RELA" class="gene gc"><rect x="2008" y="1163" width="101" height="46" rx="6"/><text x="2058.5" y="1195">RELA</text></g>
<g id="c-LY96" class="gene gc"><rect x="1131" y="1218" width="101" height="46" rx="6"/><text x="1181.5" y="1250">LY96</text></g>
<g id="c-F2" class="gene gc"><rect x="1241" y="1218" width="101" height="46" rx="6"/><text x="1291.5" y="1250">F2</text></g>
<g id="c-PTGS2" class="gene gc"><rect x="1350" y="1218" width="101" height="46" rx="6"/><text x="1400.5" y="1250">PTGS2</text></g>
<g id="c-COX5A" class="gene gc"><rect x="1460" y="1218" width="101" height="46" rx="6"/><text x="1510.5" y="1250">COX5A</text></g>
<g id="c-ESR2" class="gene gc"><rect x="1569" y="1218" width="101" height="46" rx="6"/><text x="1619.5" y="1250">ESR2</text></g>
<g id="c-LTB4R" class="gene gc"><rect x="1679" y="1218" width="101" height="46" rx="6"/><text x="1729.5" y="1250">LTB4R</text></g>
<g id="c-F3" class="gene gc"><rect x="1789" y="1218" width="101" height="46" rx="6"/><text x="1839.5" y="1250">F3</text></g>
<g id="c-TYR" class="gene gc"><rect x="1898" y="1218" width="101" height="46" rx="6"/><text x="1948.5" y="1250">TYR</text></g>
<g id="c-PAEP" class="gene gc"><rect x="2008" y="1218" width="101" height="46" rx="6"/><text x="2058.5" y="1250">PAEP</text></g>
<g id="c-OPRM1" class="gene gc"><rect x="1131" y="1272" width="101" height="46" rx="6"/><text x="1181.5" y="1304">OPRM1</text></g>
<g id="c-SEC14L2" class="gene gc"><rect x="1241" y="1272" width="101" height="46" rx="6"/><text x="1291.5" y="1304">SEC14L2</text></g>
<g id="c-SLC6A2" class="gene gc"><rect x="1350" y="1272" width="101" height="46" rx="6"/><text x="1400.5" y="1304">SLC6A2</text></g>
<g id="c-SELP" class="gene gc"><rect x="1460" y="1272" width="101" height="46" rx="6"/><text x="1510.5" y="1304">SELP</text></g>
<g id="c-IL10" class="gene gc"><rect x="1569" y="1272" width="101" height="46" rx="6"/><text x="1619.5" y="1304">IL10</text></g>
<g id="c-FADS2" class="gene gc"><rect x="1679" y="1272" width="101" height="46" rx="6"/><text x="1729.5" y="1304">FADS2</text></g>
<g id="c-SULT2A1" class="gene gc"><rect x="1789" y="1272" width="101" height="46" rx="6"/><text x="1839.5" y="1304">SULT2A1</text></g>
<g id="c-ADRA2B" class="gene gc"><rect x="1898" y="1272" width="101" height="46" rx="6"/><text x="1948.5" y="1304">ADRA2B</text></g>
<g id="c-DHFR" class="gene gc"><rect x="2008" y="1272" width="101" height="46" rx="6"/><text x="2058.5" y="1304">DHFR</text></g>
<g id="c-PLA2G1B" class="gene gc"><rect x="1131" y="1327" width="101" height="46" rx="6"/><text x="1181.5" y="1359">PLA2G1B</text></g>
<g id="c-HMOX1" class="gene gc"><rect x="1241" y="1327" width="101" height="46" rx="6"/><text x="1291.5" y="1359">HMOX1</text></g>
<g id="c-INS" class="gene gc"><rect x="1350" y="1327" width="101" height="46" rx="6"/><text x="1400.5" y="1359">INS</text></g>
<g id="c-NR3C1" class="gene gc"><rect x="1460" y="1327" width="101" height="46" rx="6"/><text x="1510.5" y="1359">NR3C1</text></g>
<g id="c-NFKB2" class="gene gc"><rect x="1569" y="1327" width="101" height="46" rx="6"/><text x="1619.5" y="1359">NFKB2</text></g>
<g id="c-RHO" class="gene gc"><rect x="1679" y="1327" width="101" height="46" rx="6"/><text x="1729.5" y="1359">RHO</text></g>
<g id="c-HSD11B2" class="gene gc"><rect x="1789" y="1327" width="101" height="46" rx="6"/><text x="1839.5" y="1359">HSD11B2</text></g>
<g id="c-LCN2" class="gene gc"><rect x="1898" y="1327" width="101" height="46" rx="6"/><text x="1948.5" y="1359">LCN2</text></g>
<g id="c-ESR1" class="gene gc"><rect x="2008" y="1327" width="101" height="46" rx="6"/><text x="2058.5" y="1359">ESR1</text></g>
<g id="c-SERPINE1" class="gene gc"><rect x="1131" y="1382" width="101" height="46" rx="6"/><text x="1181.5" y="1414">SERPINE1</text></g>
<g id="c-APP" class="gene gc"><rect x="1241" y="1382" width="101" height="46" rx="6"/><text x="1291.5" y="1414">APP</text></g>
<g id="c-PPP3CA" class="gene gc"><rect x="1350" y="1382" width="101" height="46" rx="6"/><text x="1400.5" y="1414">PPP3CA</text></g>
<g id="c-SHBG" class="gene gc"><rect x="1460" y="1382" width="101" height="46" rx="6"/><text x="1510.5" y="1414">SHBG</text></g>
<g id="c-NOS2" class="gene gc"><rect x="1569" y="1382" width="101" height="46" rx="6"/><text x="1619.5" y="1414">NOS2</text></g>
<g id="c-FADS1" class="gene gc"><rect x="1679" y="1382" width="101" height="46" rx="6"/><text x="1729.5" y="1414">FADS1</text></g>
<g id="c-CLEC4E" class="gene gc"><rect x="1789" y="1382" width="101" height="46" rx="6"/><text x="1839.5" y="1414">CLEC4E</text></g>
<g id="c-CYP1A2" class="gene gc"><rect x="1898" y="1382" width="101" height="46" rx="6"/><text x="1948.5" y="1414">CYP1A2</text></g>
<g id="c-IKBKB" class="gene gc"><rect x="2008" y="1382" width="101" height="46" rx="6"/><text x="2058.5" y="1414">IKBKB</text></g>
<g id="c-LALBA" class="gene gc"><rect x="1131" y="1436" width="101" height="46" rx="6"/><text x="1181.5" y="1468">LALBA</text></g>
<g id="c-NFKB1" class="gene gc"><rect x="1241" y="1436" width="101" height="46" rx="6"/><text x="1291.5" y="1468">NFKB1</text></g>
<g id="c-COX8A" class="gene gc"><rect x="1350" y="1436" width="101" height="46" rx="6"/><text x="1400.5" y="1468">COX8A</text></g>
<g id="c-MIF" class="gene gc"><rect x="1460" y="1436" width="101" height="46" rx="6"/><text x="1510.5" y="1468">MIF</text></g>
<g id="c-PLA2G2A" class="gene gc"><rect x="1569" y="1436" width="101" height="46" rx="6"/><text x="1619.5" y="1468">PLA2G2A</text></g>
<g id="c-CDK2" class="gene gc"><rect x="1679" y="1436" width="101" height="46" rx="6"/><text x="1729.5" y="1468">CDK2</text></g>
<g id="c-ADRB2" class="gene gc"><rect x="1789" y="1436" width="101" height="46" rx="6"/><text x="1839.5" y="1468">ADRB2</text></g>
<g id="c-FURIN" class="gene gc"><rect x="1898" y="1436" width="101" height="46" rx="6"/><text x="1948.5" y="1468">FURIN</text></g>
<g id="c-NPPB" class="gene gc"><rect x="2008" y="1436" width="101" height="46" rx="6"/><text x="2058.5" y="1468">NPPB</text></g>
<g id="c-TRPV1" class="gene gc"><rect x="1131" y="1491" width="101" height="46" rx="6"/><text x="1181.5" y="1523">TRPV1</text></g>
<g id="c-IL6" class="gene gc"><rect x="1241" y="1491" width="101" height="46" rx="6"/><text x="1291.5" y="1523">IL6</text></g>
<g id="c-PDE3A" class="gene gc"><rect x="1350" y="1491" width="101" height="46" rx="6"/><text x="1400.5" y="1523">PDE3A</text></g>
<g id="c-PPARG" class="gene gc"><rect x="1460" y="1491" width="101" height="46" rx="6"/><text x="1510.5" y="1523">PPARG</text></g>
<g id="c-CA1" class="gene gc"><rect x="1569" y="1491" width="101" height="46" rx="6"/><text x="1619.5" y="1523">CA1</text></g>
<g id="c-HSP90AA1" class="gene gc"><rect x="1679" y="1491" width="101" height="46" rx="6"/><text x="1729.5" y="1523">HSP90AA1</text></g>
<g id="c-IGHG2" class="gene gc"><rect x="1789" y="1491" width="101" height="46" rx="6"/><text x="1839.5" y="1523">IGHG2</text></g>
<g id="c-TP53" class="gene gc"><rect x="1898" y="1491" width="101" height="46" rx="6"/><text x="1948.5" y="1523">TP53</text></g>
<g id="c-TNF" class="gene gc"><rect x="2008" y="1491" width="101" height="46" rx="6"/><text x="2058.5" y="1523">TNF</text></g>
<g id="c-NFKBIA" class="gene gc"><rect x="1131" y="1545" width="101" height="46" rx="6"/><text x="1181.5" y="1577">NFKBIA</text></g>
<g id="c-PLAU" class="gene gc"><rect x="1241" y="1545" width="101" height="46" rx="6"/><text x="1291.5" y="1577">PLAU</text></g>
<g id="c-PLG" class="gene gc"><rect x="1350" y="1545" width="101" height="46" rx="6"/><text x="1400.5" y="1577">PLG</text></g>
<g id="c-VDR" class="gene gc"><rect x="1460" y="1545" width="101" height="46" rx="6"/><text x="1510.5" y="1577">VDR</text></g>
<g id="c-DRD1" class="gene gc"><rect x="1569" y="1545" width="101" height="46" rx="6"/><text x="1619.5" y="1577">DRD1</text></g>
<g id="c-AR" class="gene gc"><rect x="1679" y="1545" width="101" height="46" rx="6"/><text x="1729.5" y="1577">AR</text></g>
<g id="c-MAPK3" class="gene gc"><rect x="1789" y="1545" width="101" height="46" rx="6"/><text x="1839.5" y="1577">MAPK3</text></g>
<g id="c-CASP9" class="gene gc"><rect x="1898" y="1545" width="101" height="46" rx="6"/><text x="1948.5" y="1577">CASP9</text></g>
<g id="c-PGR" class="gene gc"><rect x="2008" y="1545" width="101" height="46" rx="6"/><text x="2058.5" y="1577">PGR</text></g>
<g id="c-TLR4" class="gene gc"><rect x="1131" y="1600" width="101" height="46" rx="6"/><text x="1181.5" y="1632">TLR4</text></g>
<g id="c-PTGS1" class="gene gc"><rect x="1241" y="1600" width="101" height="46" rx="6"/><text x="1291.5" y="1632">PTGS1</text></g>
<g id="c-GSTP1" class="gene gc"><rect x="1350" y="1600" width="101" height="46" rx="6"/><text x="1400.5" y="1632">GSTP1</text></g>
<g id="c-HNF4A" class="gene gc"><rect x="1460" y="1600" width="101" height="46" rx="6"/><text x="1510.5" y="1632">HNF4A</text></g>
<g id="c-BTK" class="gene gc"><rect x="1569" y="1600" width="101" height="46" rx="6"/><text x="1619.5" y="1632">BTK</text></g>
<g id="c-PPARA" class="gene gc"><rect x="1679" y="1600" width="101" height="46" rx="6"/><text x="1729.5" y="1632">PPARA</text></g>
<g id="c-ALOX5" class="gene gc"><rect x="1789" y="1600" width="101" height="46" rx="6"/><text x="1839.5" y="1632">ALOX5</text></g>
<g id="c-CASP3" class="gene gc"><rect x="1898" y="1600" width="101" height="46" rx="6"/><text x="1948.5" y="1632">CASP3</text></g>
<g id="c-MAPK1" class="gene gc"><rect x="2008" y="1600" width="101" height="46" rx="6"/><text x="2058.5" y="1632">MAPK1</text></g>

<!-- Panel c pathway nodes -->
<g id="c-pw-TNF" class="pw"><polygon points="2315,1136 2358,1112 2401,1136 2358,1160"/><text class="lbl" x="2358" y="1145">TNF signaling pathway</text></g>
<g id="c-pw-Toll" class="pw"><polygon points="2583,1143 2626,1119 2669,1143 2626,1167"/><text class="lbl"><tspan x="2623" y="1137">Toll-like receptor</tspan><tspan x="2623" y="1165">signaling pathway</tspan></text></g>
<g id="c-pw-Tcell" class="pw"><polygon points="2629,1220 2672,1196 2715,1220 2672,1244"/><text class="lbl"><tspan x="2668" y="1215">T cell receptor</tspan><tspan x="2668" y="1243">signaling pathway</tspan></text></g>
<g id="c-pw-HIF1" class="pw"><polygon points="2267,1247 2310,1223 2353,1247 2310,1271"/><text class="lbl"><tspan x="2307" y="1240">HIF-1 signaling</tspan><tspan x="2307" y="1267">pathway</tspan></text></g>
<g id="c-pw-IL17" class="pw"><polygon points="2677,1299 2720,1275 2763,1299 2720,1323"/><text class="lbl"><tspan x="2715" y="1294">IL-17 signaling</tspan><tspan x="2715" y="1320">pathway</tspan></text></g>
<g id="c-pw-NFkB" class="pw"><polygon points="2261,1353 2304,1329 2347,1353 2304,1377"/><text class="lbl"><tspan x="2299" y="1347">NF-kappa B signaling</tspan><tspan x="2299" y="1374">pathway</tspan></text></g>
<g id="c-pw-Ctype" class="pw"><polygon points="2682,1401 2725,1377 2768,1401 2725,1425"/><text class="lbl"><tspan x="2721" y="1396">C-type lectin receptor</tspan><tspan x="2721" y="1425">signaling pathway</tspan></text></g>
<g id="c-pw-HTLV1" class="pw"><polygon points="2334,1484 2377,1460 2420,1484 2377,1508"/><text class="lbl"><tspan x="2371" y="1462">Human T-cell</tspan><tspan x="2371" y="1491">leukemia virus 1</tspan><tspan x="2371" y="1520">infection</tspan></text></g>
<g id="c-pw-AGE" class="pw"><polygon points="2589,1495 2632,1471 2675,1495 2632,1519"/><text class="lbl"><tspan x="2628" y="1473">AGE-RAGE signaling</tspan><tspan x="2628" y="1504">pathway in diabetic</tspan><tspan x="2628" y="1531">complications</tspan></text></g>
</svg>
